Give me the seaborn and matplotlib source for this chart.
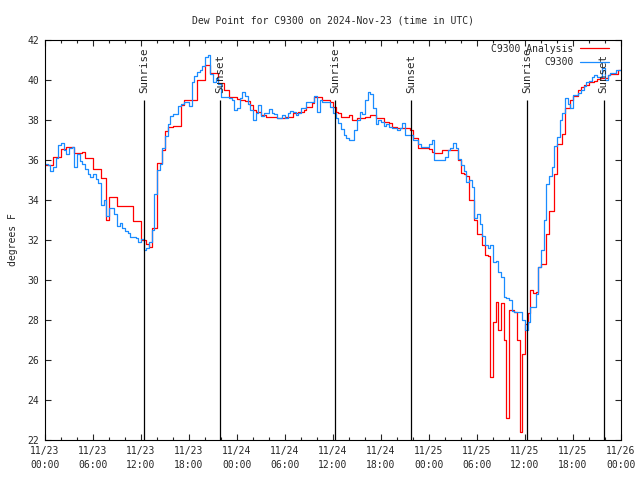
import numpy as np
import pandas as pd
import matplotlib
matplotlib.use('Agg')
import matplotlib.pyplot as plt
import matplotlib.dates as mdates
import seaborn as sns

# dew point (F), one value every 20 minutes from 11/23 00:00 to 11/26 00:00 UTC
# (three values per row = one hour)
analysis = [
    35.75, 35.75, 35.75,  36.15, 36.15, 36.15,  36.55, 36.55, 36.65,  36.65, 36.65, 36.35,
    36.35, 36.35, 36.4,   36.1, 36.1, 36.1,     35.55, 35.55, 35.55,  35.1, 35.1, 33.0,
    34.15, 34.15, 34.15,  33.7, 33.7, 33.7,     33.7, 33.7, 33.7,     32.97, 32.97, 32.97,
    32.0, 32.0, 31.8,     31.67, 32.6, 32.6,    35.87, 35.87, 36.5,   37.47, 37.67, 37.67,
    37.7, 37.7, 37.7,     38.75, 39.0, 39.0,    39.0, 39.0, 39.0,     40.0, 40.0, 40.0,
    40.75, 40.75, 40.33,  40.33, 40.33, 39.83,  39.83, 39.5, 39.5,    39.17, 39.17, 39.17,
    39.05, 39.0, 39.0,    38.95, 38.95, 38.75,  38.5, 38.42, 38.42,   38.25, 38.25, 38.17,
    38.17, 38.17, 38.17,  38.08, 38.08, 38.08,  38.17, 38.17, 38.17,  38.33, 38.33, 38.42,
    38.42, 38.5, 38.67,   38.67, 38.83, 39.17,  39.17, 39.17, 39.0,   39.0, 39.0, 38.92,
    38.67, 38.42, 38.33,  38.17, 38.17, 38.17,  38.25, 38.0, 38.0,    38.08, 38.08, 38.08,
    38.17, 38.17, 38.25,  38.25, 38.08, 38.08,  38.08, 37.92, 37.92,  37.83, 37.67, 37.67,
    37.58, 37.58, 37.58,  37.58, 37.58, 37.5,   37.1, 37.08, 36.58,   36.58, 36.58, 36.58,
    36.55, 36.42, 36.33,  36.33, 36.33, 36.5,   36.5, 36.5, 36.5,     36.5, 36.5, 36.0,
    35.33, 35.3, 35.2,    34.0, 34.0, 33.0,     32.3, 32.3, 31.75,    31.25, 31.2, 25.17,
    27.9, 28.9, 27.5,     28.83, 27.0, 23.08,   28.5, 28.5, 28.4,     27.0, 22.4, 26.3,
    27.8, 28.33, 29.5,    29.33, 29.4, 30.67,   30.8, 30.8, 32.3,     33.45, 33.45, 35.3,
    36.8, 36.8, 37.3,     38.58, 38.58, 39.0,   39.2, 39.2, 39.5,     39.67, 39.75, 39.75,
    39.92, 39.92, 39.95,  40.03, 40.08, 40.08,  40.1, 40.25, 40.3,    40.3, 40.3, 40.5,
    40.5,
]

observed = [
    35.8, 35.75, 35.45,   35.65, 36.1, 36.75,   36.85, 36.5, 36.3,    36.6, 36.65, 35.65,
    36.3, 35.95, 35.8,    35.55, 35.3, 35.15,   35.3, 35.05, 34.85,   33.75, 34.0, 33.2,
    33.6, 33.6, 33.3,     32.7, 32.85, 32.6,    32.45, 32.35, 32.15,  32.15, 32.1, 31.9,
    32.05, 31.5, 31.6,    31.9, 32.5, 34.3,     35.5, 35.8, 36.6,     37.2, 37.8, 38.2,
    38.3, 38.3, 38.7,     38.8, 38.9, 38.9,     38.7, 39.9, 40.2,     40.4, 40.5, 40.7,
    41.17, 41.25, 40.3,   39.9, 40.1, 39.8,     39.17, 39.17, 39.17,  39.1, 39.0, 38.5,
    38.6, 39.1, 39.4,     39.2, 38.8, 38.5,     38.0, 38.35, 38.75,   38.2, 38.33, 38.33,
    38.55, 38.33, 38.3,   38.1, 38.1, 38.25,    38.1, 38.35, 38.45,   38.4, 38.25, 38.33,
    38.58, 38.58, 38.9,   38.9, 38.9, 39.2,     38.4, 39.0, 38.92,    38.92, 38.92, 38.65,
    38.35, 38.1, 37.85,   37.55, 37.25, 37.08,  37.0, 37.0, 37.5,     38.0, 38.4, 38.3,
    39.0, 39.4, 39.3,     38.6, 37.8, 38.0,     37.9, 37.7, 37.8,     37.65, 37.58, 37.58,
    37.5, 37.58, 37.85,   37.25, 37.25, 37.25,  37.0, 37.0, 36.8,     36.67, 36.67, 36.67,
    36.8, 37.0, 36.0,     36.0, 36.0, 36.0,     36.17, 36.5, 36.6,    36.83, 36.6, 36.03,
    35.75, 35.45, 34.9,   35.0, 34.65, 33.1,    33.3, 32.8, 32.2,     31.75, 31.6, 31.75,
    30.9, 30.95, 30.42,   30.15, 29.17, 29.1,   29.0, 28.45, 28.42,   28.42, 28.42, 28.0,
    27.5, 27.9, 28.67,    28.67, 29.3, 30.67,   31.5, 33.0, 34.8,     35.2, 35.67, 36.7,
    37.17, 38.0, 38.33,   39.08, 38.8, 38.6,    39.25, 39.25, 39.33,  39.5, 39.7, 39.92,
    39.95, 40.17, 40.25,  40.17, 40.17, 40.6,   40.0, 40.25, 40.33,   40.33, 40.5, 40.5,
    40.5,
]

sun_times = ["2024-11-23 12:25", "2024-11-23 21:55", "2024-11-24 12:15",
             "2024-11-24 21:45", "2024-11-25 12:15", "2024-11-25 21:50"]
sun_labels = ["Sunrise", "Sunset", "Sunrise", "Sunset", "Sunrise", "Sunset"]

tick_labels = ["11/23\n00:00", "11/23\n06:00", "11/23\n12:00", "11/23\n18:00",
               "11/24\n00:00", "11/24\n06:00", "11/24\n12:00", "11/24\n18:00",
               "11/25\n00:00", "11/25\n06:00", "11/25\n12:00", "11/25\n18:00",
               "11/26\n00:00"]

times = pd.date_range("2024-11-23 00:00", periods=len(observed), freq="20min")
df = pd.concat([
    pd.DataFrame({"time": times, "dewpoint": analysis, "series": "C9300 Analysis"}),
    pd.DataFrame({"time": times, "dewpoint": observed, "series": "C9300"}),
])

sns.set_style("ticks")
plt.rcParams['font.family'] = ['DejaVu Sans Mono']

fig = plt.figure(figsize=(6.4, 4.8), dpi=100)
ax = fig.add_axes([45 / 640, 40 / 480, 576 / 640, 400 / 480])

sns.lineplot(data=df, x="time", y="dewpoint", hue="series",
             hue_order=["C9300 Analysis", "C9300"],
             palette={"C9300 Analysis": "#ff0000", "C9300": "#1a8cff"},
             drawstyle="steps-post", linewidth=0.9, estimator=None, ax=ax)

# sunrise / sunset markers
sun_x = mdates.date2num(pd.to_datetime(sun_times).to_pydatetime())
ax.vlines(sun_x, 22, 39.0, colors="black", linewidth=0.9)
for x, lbl in zip(sun_x, sun_labels):
    ax.text(x, 39.35, lbl, rotation=90, ha="center", va="bottom", fontsize=7.8)

# axes
start = mdates.date2num(pd.Timestamp("2024-11-23 00:00").to_pydatetime())
end = mdates.date2num(pd.Timestamp("2024-11-26 00:00").to_pydatetime())
ax.set_xlim(start, end)
ax.set_ylim(22, 42)
ax.set_xticks(np.linspace(start, end, len(tick_labels)))
ax.set_xticklabels(tick_labels, linespacing=1.5)
ax.set_xticks(np.linspace(start, end, 37), minor=True)
ax.set_yticks(range(22, 43, 2))
ax.tick_params(axis="both", which="major", direction="in", top=True, right=True,
               length=4, width=0.8, labelsize=7, pad=4)
ax.tick_params(axis="x", which="minor", direction="in", top=True, length=2.5, width=0.8)
for s in ax.spines.values():
    s.set_color("black")
    s.set_linewidth(0.8)

ax.set_xlabel("")
ax.set_ylabel("degrees F", fontsize=7, labelpad=7)
ax.set_title("Dew Point for C9300 on 2024-Nov-23 (time in UTC)", fontsize=7, pad=12)

handles, labels = ax.get_legend_handles_labels()
ax.legend(handles, labels, loc="upper right", frameon=False, markerfirst=False,
          fontsize=7, handlelength=3.0, handletextpad=0.7, labelspacing=0.35,
          borderaxespad=0.2, bbox_to_anchor=(0.99, 1.005))

fig.savefig("out.png", dpi=100)
